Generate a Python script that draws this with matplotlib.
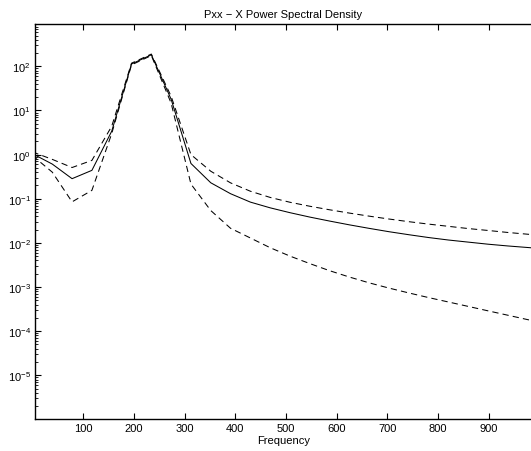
import matplotlib
matplotlib.use("Agg")
import matplotlib.pyplot as plt
import numpy as np
from matplotlib.ticker import LogLocator, NullFormatter, FixedLocator

plt.rcParams["font.family"] = ["Liberation Sans", "DejaVu Sans"]
plt.rcParams["mathtext.fontset"] = "custom"
plt.rcParams["mathtext.rm"] = "Liberation Sans"
plt.rcParams["mathtext.it"] = "Liberation Sans:italic"
plt.rcParams["mathtext.bf"] = "Liberation Sans:bold"

# frequency grid (Hz)
freq = [0.0, 39.1, 78.1, 117.2, 156.3, 195.3, 234.4, 273.4, 312.5, 351.6,
        390.6, 429.7, 468.8, 507.8, 546.9, 585.9, 625.0, 664.1, 703.1, 742.2,
        781.3, 820.3, 859.4, 898.4, 937.5, 976.6, 1015.6]

# power spectral density estimate
pxx = [1.05, 0.61, 0.285, 0.44, 3.4, 113, 183, 18, 0.63, 0.23,
       0.130, 0.0839, 0.0622, 0.0483, 0.0384, 0.0312, 0.0256, 0.0213, 0.0179, 0.0153,
       0.0132, 0.0116, 0.0104, 0.00933, 0.00851, 0.00785, 0.00724]

# upper confidence bound
pxx_hi = [1.15, 0.78, 0.51, 0.74, 4.4, 118, 190, 21, 1.0, 0.42,
          0.229, 0.148, 0.107, 0.0832, 0.0676, 0.0562, 0.0473, 0.0403, 0.0347, 0.0302,
          0.0266, 0.0237, 0.0211, 0.0191, 0.0172, 0.0157, 0.0143]

# lower confidence bound
pxx_lo = [0.95, 0.40, 0.085, 0.155, 3.0, 108, 176, 14.7, 0.215, 0.054,
          0.0214, 0.0129, 0.00776, 0.00501, 0.00339, 0.00234, 0.00168, 0.00124, 0.000944, 0.000733,
          0.000575, 0.000457, 0.000363, 0.000288, 0.000229, 0.000182, 0.000145]

fig = plt.figure(figsize=(5.31, 4.52), dpi=100)
ax = fig.add_axes([35 / 531, 32 / 452, 497 / 531, 395 / 452])

ax.semilogy(freq, pxx, color="black", lw=0.75)
ax.semilogy(freq, pxx_hi, color="black", lw=0.75, linestyle=(0, (6, 4)))
ax.semilogy(freq, pxx_lo, color="black", lw=0.75, linestyle=(0, (6, 4)))

ax.set_xlim(5, 985)
ax.set_ylim(1.02e-6, 912)
ax.set_xticks([100, 200, 300, 400, 500, 600, 700, 800, 900])
ax.yaxis.set_major_locator(FixedLocator([1e-5, 1e-4, 1e-3, 1e-2, 1e-1, 1e0, 1e1, 1e2]))
ax.yaxis.set_minor_locator(LogLocator(base=10, subs=np.arange(2, 10), numticks=20))
ax.yaxis.set_minor_formatter(NullFormatter())

ax.tick_params(axis="both", which="major", direction="in", length=4, width=0.8,
               labelsize=8, top=True, right=False, pad=3)
ax.tick_params(axis="y", which="minor", direction="in", length=2, width=0.6, right=False)
for side in ["left", "bottom", "top"]:
    ax.spines[side].set_linewidth(1.0)
ax.spines["right"].set_visible(False)

ax.set_title("Pxx \u2212 X Power Spectral Density", fontsize=8, pad=5)
ax.set_xlabel("Frequency", fontsize=8, labelpad=1)

fig.savefig("out.png", dpi=100)
plt.close(fig)
